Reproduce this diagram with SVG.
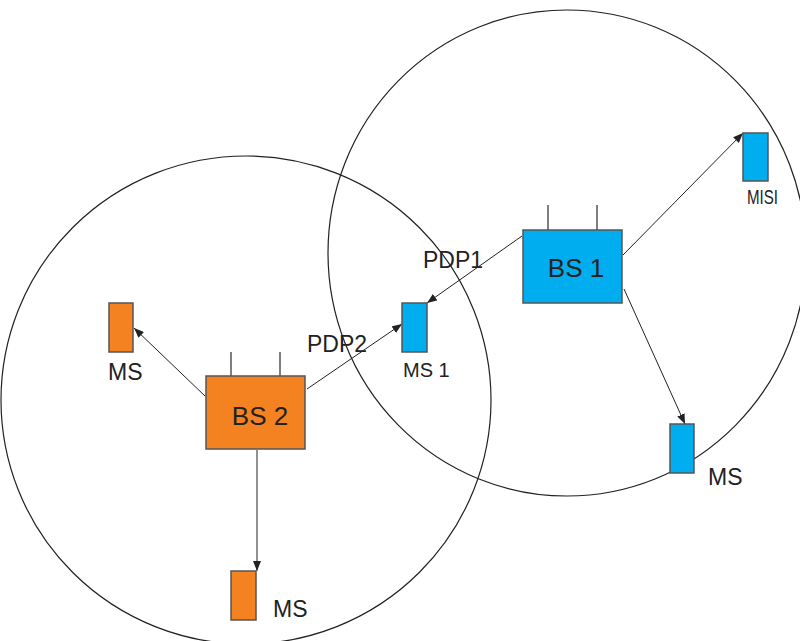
<svg xmlns="http://www.w3.org/2000/svg" width="800" height="641" viewBox="0 0 800 641">
<defs>
<style>
.cell{fill:none;stroke:#222;stroke-width:1.2}
.conn{stroke:#222;stroke-width:1;fill:none}
.ant{stroke:#555;stroke-width:1.5}
.blue{fill:#00AEEF;stroke:#555;stroke-width:1.5}
.orange{fill:#F58220;stroke:#555;stroke-width:1.5}
.t{font-family:"Liberation Sans",Arial,sans-serif;fill:#222}
</style>
<marker id="ah" viewBox="0 0 10 8" refX="10" refY="4" markerWidth="10" markerHeight="8" markerUnits="userSpaceOnUse" orient="auto">
<path d="M0,0 L10,4 L0,8 Z" fill="#222"/>
</marker>
</defs>
<rect width="800" height="641" fill="#fff"/>
<g id="cells">
<ellipse class="cell" cx="246" cy="400" rx="245" ry="244"/>
<ellipse class="cell" cx="567" cy="253" rx="239" ry="243"/>
</g>
<g id="connectors">
<line class="conn" x1="522" y1="236" x2="427" y2="303" marker-end="url(#ah)"/>
<line class="conn" x1="623" y1="255" x2="743" y2="133" marker-end="url(#ah)"/>
<line class="conn" x1="624" y1="289" x2="685" y2="424" marker-end="url(#ah)"/>
<line class="conn" x1="307" y1="389" x2="402" y2="324" marker-end="url(#ah)"/>
<line class="conn" x1="205" y1="396" x2="134" y2="328" marker-end="url(#ah)"/>
<line class="conn" x1="257" y1="450" x2="257" y2="571" marker-end="url(#ah)"/>
</g>
<g id="bs1">
<line class="ant" x1="548" y1="205" x2="548" y2="230"/>
<line class="ant" x1="597" y1="205" x2="597" y2="230"/>
<rect class="blue" x="523" y="230" width="99" height="73"/>
<text class="t" x="576" y="277" font-size="26" text-anchor="middle">BS 1</text>
</g>
<g id="bs2">
<line class="ant" x1="231" y1="352" x2="231" y2="376"/>
<line class="ant" x1="280" y1="352" x2="280" y2="376"/>
<rect class="orange" x="206" y="376" width="99" height="73"/>
<text class="t" x="260" y="425" font-size="26" text-anchor="middle">BS 2</text>
</g>
<g id="ms1">
<rect class="blue" x="402" y="303" width="25" height="49"/>
<text class="t" x="403" y="377" font-size="20">MS 1</text>
</g>
<g id="ms-topright">
<rect class="blue" x="743" y="133" width="25" height="48"/>
<text class="t" x="747" y="204" font-size="21" textLength="31" lengthAdjust="spacingAndGlyphs">MISI</text>
</g>
<g id="ms-right">
<rect class="blue" x="670" y="424" width="24" height="49"/>
<text class="t" x="708" y="485" font-size="23">MS</text>
</g>
<g id="ms-left">
<rect class="orange" x="109" y="303" width="24" height="49"/>
<text class="t" x="108" y="380" font-size="23">MS</text>
</g>
<g id="ms-bottom">
<rect class="orange" x="231" y="571" width="25" height="49"/>
<text class="t" x="273" y="617" font-size="23">MS</text>
</g>
<g id="labels">
<text class="t" x="423" y="268" font-size="23">PDP1</text>
<text class="t" x="307" y="352" font-size="23">PDP2</text>
</g>
</svg>
